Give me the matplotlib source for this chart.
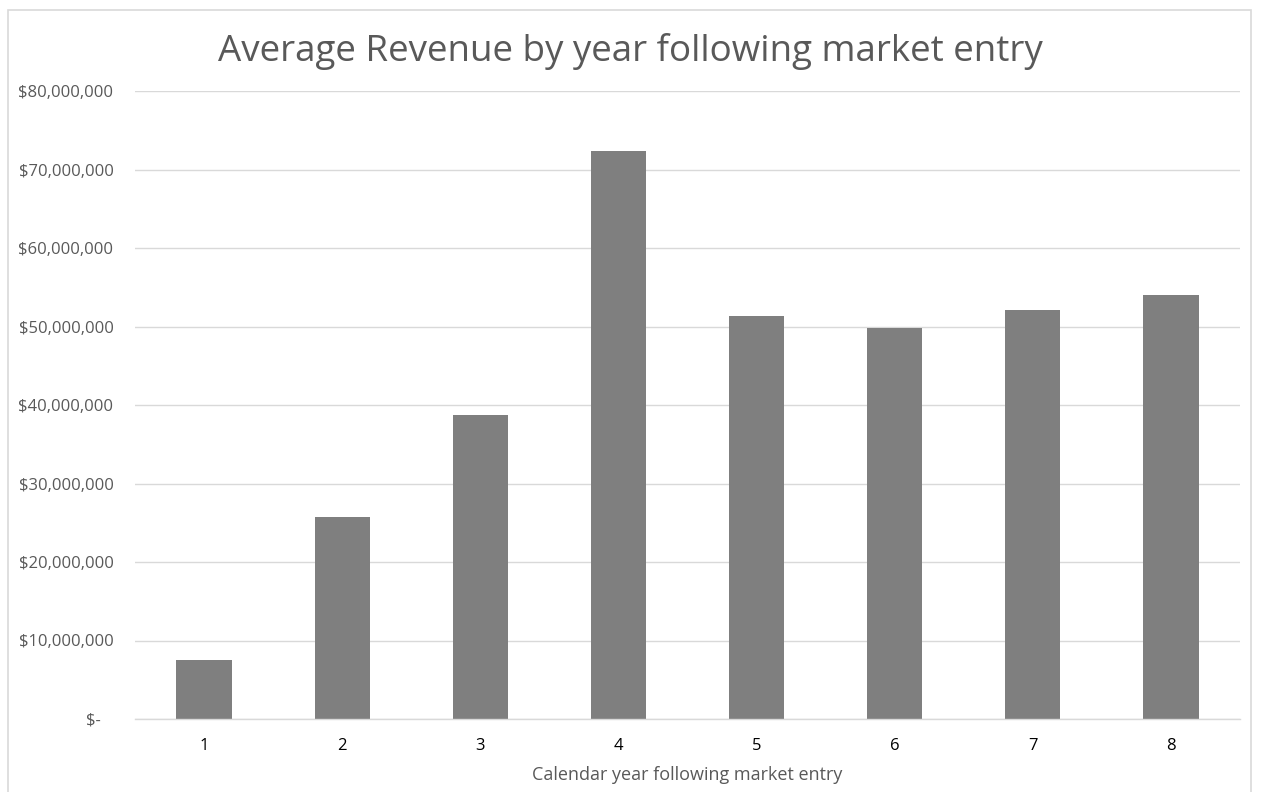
import matplotlib
matplotlib.use("Agg")
import matplotlib.pyplot as plt
from matplotlib.patches import Rectangle
from matplotlib.ticker import FuncFormatter

years = ["1", "2", "3", "4", "5", "6", "7", "8"]
revenue = [7.55e6, 25.7e6, 38.7e6, 72.4e6, 51.4e6, 49.8e6, 52.1e6, 54.0e6]
y_ticks = [0, 10e6, 20e6, 30e6, 40e6, 50e6, 60e6, 70e6, 80e6]

title = "Average Revenue by year following market entry"
xlabel = "Calendar year following market entry"

plt.rcParams['font.family'] = ['Open Sans', 'DejaVu Sans']

W, H = 1261, 792
fig = plt.figure(figsize=(W / 100, H / 100), dpi=100)
ax = fig.add_axes([135 / W, 1 - 719 / H, (1240 - 135) / W, (719 - 91) / H])

fig.patches.append(Rectangle((8 / W, -0.05), (1251 - 8) / W, 1.05 - 10 / H,
                             transform=fig.transFigure, fill=False,
                             edgecolor="#d9d9d9", linewidth=1.2))

x = list(range(len(years)))
ax.bar(x, revenue, width=0.4, color="#7f7f7f", zorder=3)
ax.set_xlim(-0.5, len(years) - 0.5)
ax.set_ylim(0, 80e6)
ax.set_yticks(y_ticks)

def fmt(v, pos):
    if v == 0:
        return "$-   "
    return "${:,.0f}".format(v)

ax.yaxis.set_major_formatter(FuncFormatter(fmt))
ax.set_xticks(x)
ax.set_xticklabels(years)

ax.grid(axis="y", color="#d9d9d9", linewidth=1, zorder=0)
for s in ["top", "right", "left"]:
    ax.spines[s].set_visible(False)
ax.spines["bottom"].set_color("#d9d9d9")
ax.spines["bottom"].set_linewidth(1)
ax.spines["bottom"].set_zorder(4)
ax.tick_params(axis="both", length=0)
ax.tick_params(axis="y", labelsize=12, labelcolor="#595959", pad=15.5)
ax.tick_params(axis="x", labelsize=12, labelcolor="#000000", pad=14)

ax.set_xlabel(xlabel, fontsize=13, color="#595959", labelpad=8)
fig.text(0.5, 1 - 51 / H, title, ha="center", va="center",
         fontsize=26.5, color="#595959")

fig.savefig("out.png", dpi=100)
